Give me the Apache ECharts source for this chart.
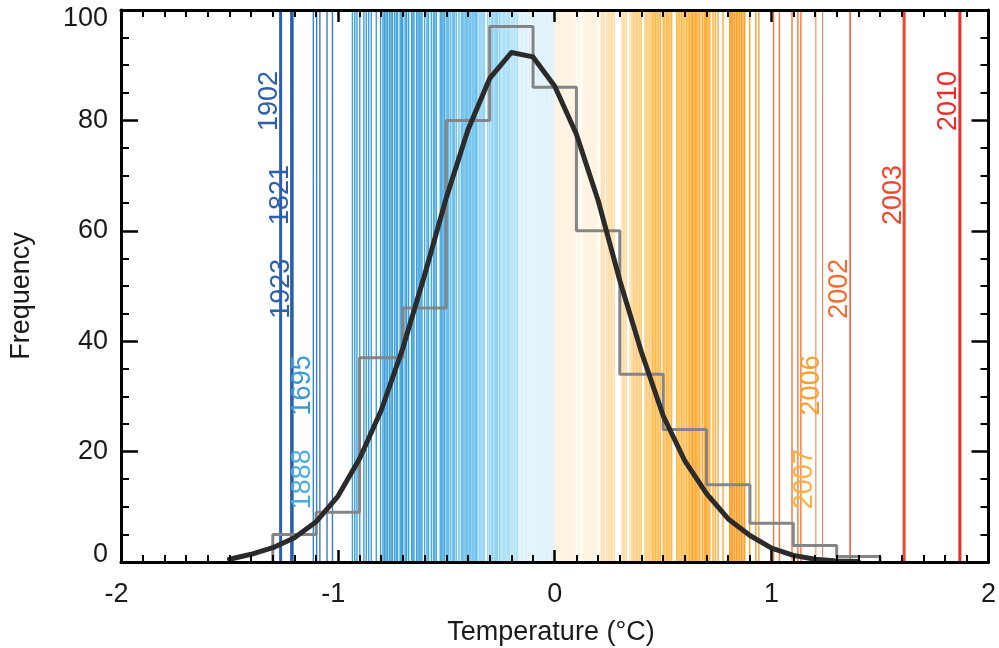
<!DOCTYPE html>
<html>
<head>
<meta charset="utf-8">
<script src="https://cdn.jsdelivr.net/npm/echarts@6/dist/echarts.min.js"></script>
<style>
html,body{margin:0;padding:0;background:#fff;}
#chart{width:999px;height:648px;}
</style>
</head>
<body>
<div id="chart"></div>
<script>
// ---------------- DATA ----------------
// Histogram (bin edges, °C) and counts
const binEdges = [-1.3,-1.1,-0.9,-0.7,-0.5,-0.3,-0.1,0.1,0.3,0.5,0.7,0.9,1.1,1.3,1.5];
const binCounts = [5,9,37,46,80,97,86,60,34,24,14,7,3,1];

// Fitted curve
const curveT = [-1.5,-1.4,-1.3,-1.2,-1.1,-1.0,-0.9,-0.8,-0.7,-0.6,-0.5,-0.4,-0.3,-0.2,-0.1,0.0,0.1,0.2,0.3,0.4,0.5,0.6,0.7,0.8,0.9,1.0,1.1,1.2,1.3,1.4];
const curveF = [0.5,1.4,2.6,4.4,7.3,11.9,18.7,27.5,38.8,52,66,78.3,87.6,92.3,91.5,86.2,77.5,65.5,51,38,26.5,18.3,12.4,7.8,4.8,2.5,1.2,0.5,0.2,0.1];

// Yearly temperature anomalies (°C), one vertical line each (unlabelled years)
const yearTemps = [
-1.098,-1.083,-1.050,-1.025,
-0.933,-0.922,-0.912,-0.899,-0.880,-0.869,-0.858,-0.846,-0.823,-0.803,-0.792,-0.785,-0.778,-0.771,-0.762,-0.755,
-0.749,-0.739,-0.731,-0.725,-0.713,-0.707,-0.701,-0.690,-0.683,-0.674,-0.660,-0.654,-0.649,-0.637,-0.630,-0.622,
-0.617,-0.612,-0.600,-0.589,-0.582,-0.569,-0.559,-0.553,-0.546,-0.528,-0.521,-0.515,-0.508,-0.500,-0.494,-0.489,
-0.482,-0.473,-0.467,-0.462,-0.454,-0.442,-0.431,-0.425,-0.419,-0.413,-0.408,-0.401,-0.395,-0.390,-0.386,-0.378,
-0.372,-0.366,-0.361,-0.355,-0.347,-0.341,-0.335,-0.330,-0.324,-0.309,-0.301,-0.293,-0.286,-0.280,-0.274,-0.268,
-0.263,-0.255,-0.249,-0.243,-0.237,-0.231,-0.225,-0.219,-0.214,-0.209,-0.201,-0.193,-0.186,-0.178,-0.172,-0.166,
-0.160,-0.154,-0.148,-0.142,-0.136,-0.130,-0.124,-0.117,-0.109,-0.101,-0.094,-0.086,-0.080,-0.074,-0.068,-0.062,
-0.056,-0.050,-0.044,-0.038,-0.032,-0.026,-0.020,-0.014,-0.008,-0.003,
0.003,0.009,0.015,0.021,0.027,0.033,0.039,0.045,0.051,0.057,0.063,0.069,0.075,0.081,0.087,0.093,0.107,0.113,
0.130,0.136,0.142,0.148,0.154,0.160,0.166,0.172,0.178,0.184,0.190,0.194,0.215,0.222,0.229,0.240,0.247,0.254,
0.261,0.268,0.275,0.310,0.317,0.324,0.330,0.347,0.355,0.362,0.370,0.377,0.384,0.392,0.399,0.416,0.423,0.430,
0.437,0.444,0.451,0.458,0.465,0.472,0.480,0.487,0.500,0.508,0.516,0.523,0.531,0.539,0.562,0.569,0.577,0.585,
0.592,0.600,0.608,0.615,0.622,0.630,0.636,0.642,0.648,0.655,0.661,0.669,0.680,0.689,0.695,0.700,0.707,0.715,
0.730,0.741,0.753,0.776,0.807,0.812,0.817,0.822,0.830,0.838,0.845,0.853,0.861,0.868,0.876,0.899,0.927,0.941,
1.009,1.036,1.094,1.121,1.135
];

// Labelled extreme years
const labelYears = ['1902','1821','1923','1695','1888','2007','2006','2002','2003','2010'];
const labelTemps = [-1.264,-1.213,-1.211,-1.114,-1.112,1.204,1.235,1.362,1.611,1.868];
const labelFreq  = [83.5,66.5,49.5,32,15,15,32,49.5,66.5,83.5];

// Axis ticks
const xTicks = [-2,-1,0,1,2];
const yTicks = [0,20,40,60,80,100];

// ---------------- STYLE ----------------
const FONT = '"Liberation Sans", Arial, Helvetica, sans-serif';
function lineColor(t){
  if (t < -1.15) return '#2d5eac';
  if (t < -0.95) return '#3a7cc8';
  if (t < -0.62) return '#3d9fdb';
  if (t < -0.5) return '#48a9e1';
  if (t < -0.36) return '#6cc0eb';
  if (t < -0.25) return '#94d3f4';
  if (t < -0.17) return '#ade0f7';
  if (t < 0) return '#dff1fb';
  if (t < 0.2) return '#fff3e0';
  if (t < 0.36) return '#ffdda8';
  if (t < 0.45) return '#ffca78';
  if (t < 0.62) return '#ffb845';
  if (t < 0.8) return '#ffaa32';
  if (t < 0.96) return '#ff9d24';
  if (t < 1.3) return '#f6783a';
  if (t < 1.5) return '#f2603a';
  return '#ee2b28';
}
const labelStyle = {
  '1902':{c:'#2d5eac',w:3}, '1821':{c:'#2d5eac',w:3}, '1923':{c:'#2d5eac',w:3},
  '1695':{c:'#3a98d6',w:1}, '1888':{c:'#4aabe3',w:1},
  '2007':{c:'#fbb13c',w:1}, '2006':{c:'#f8a030',w:1}, '2002':{c:'#f36b2d',w:1.6},
  '2003':{c:'#f1462b',w:3}, '2010':{c:'#ee2b28',w:3}
};
const tickText = {fontSize:27, fontFamily:FONT, color:'#1a1a1a'};

// Build library data from arrays
const histPts = [[binEdges[0],0]];
binCounts.forEach((c,i)=>{ histPts.push([binEdges[i],c],[binEdges[i+1],c]); });
histPts.push([binEdges[binEdges.length-1],0]);
const curvePts = curveT.map((t,i)=>[t,curveF[i]]);
const lineData = yearTemps.map(t=>[t,0]);
const labelData = labelTemps.map((t,i)=>[t,labelFreq[i],i]);

const axisLine = {show:true, onZero:false, lineStyle:{color:'#000', width:3}};
function xAxisCfg(pos, showLabel){
  return {
    type:'value', position:pos, min:xTicks[0], max:xTicks[xTicks.length-1], interval:1, z:10,
    axisLine:axisLine,
    axisTick:{show:true, inside:true, length:12, lineStyle:{color:'#000', width:2.5}},
    minorTick:{show:true, splitNumber:10, length:7, lineStyle:{color:'#000', width:2}},
    splitLine:{show:false}, minorSplitLine:{show:false},
    axisLabel:{show:showLabel, margin:19,
      formatter:v=> v<0 ? '{neg|'+v+'}' : '{n|'+v+'}',
      rich:{n:Object.assign({},tickText), neg:Object.assign({padding:[0,9,0,0]},tickText)}}
  };
}
function yAxisCfg(pos, showLabel){
  return {
    type:'value', position:pos, min:yTicks[0], max:yTicks[yTicks.length-1], interval:20, z:10,
    axisLine:axisLine,
    axisTick:{show:true, inside:true, length:17, lineStyle:{color:'#000', width:2.5}},
    minorTick:{show:true, splitNumber:4, length:8, lineStyle:{color:'#000', width:2}},
    splitLine:{show:false}, minorSplitLine:{show:false},
    axisLabel:{show:showLabel, margin:13,
      formatter:v=> v===yTicks[yTicks.length-1] ? '{t|'+v+'}' : (v===yTicks[0] ? '{b|'+v+'}' : '{n|'+v+'}'),
      rich:{n:Object.assign({},tickText), t:Object.assign({padding:[18,0,0,0]},tickText), b:Object.assign({padding:[0,0,15,0]},tickText)}}
  };
}

const chart = echarts.init(document.getElementById('chart'), null, {renderer:'canvas'});
chart.setOption({
  animation:false,
  backgroundColor:'#fff',
  grid:{left:121, right:8, top:10, bottom:86, containLabel:false},
  xAxis:[xAxisCfg('bottom',true), xAxisCfg('top',false)],
  yAxis:[yAxisCfg('left',true), yAxisCfg('right',false)],
  graphic:[
    {type:'text', x:551, y:633, style:{text:'Temperature (°C)', font:'27px '+FONT, fill:'#1a1a1a', align:'center', verticalAlign:'middle'}},
    {type:'text', x:22, y:296, rotation:Math.PI/2, style:{text:'Frequency', font:'27px '+FONT, fill:'#1a1a1a', align:'center', verticalAlign:'middle'}}
  ],
  series:[
    {
      type:'custom', name:'years', z:1, data:lineData, encode:{x:0,y:1},
      renderItem:(params, api)=>{
        const t = api.value(0);
        const p0 = api.coord([t,0]), p1 = api.coord([t,100]);
        return {type:'line', shape:{x1:p0[0],y1:p0[1],x2:p1[0],y2:p1[1]},
          style:{stroke:lineColor(t), lineWidth:1.4}};
      }
    },
    {
      type:'custom', name:'extremes', z:2, data:labelData, encode:{x:0,y:1},
      renderItem:(params, api)=>{
        const t = api.value(0), i = api.value(2);
        const st = labelStyle[labelYears[i]];
        const p0 = api.coord([t,0]), p1 = api.coord([t,100]);
        return {type:'line', shape:{x1:p0[0],y1:p0[1],x2:p1[0],y2:p1[1]},
          style:{stroke: st.w>=3 ? st.c : lineColor(t), lineWidth:st.w}};
      }
    },
    {
      type:'line', name:'histogram', z:3, data:histPts, showSymbol:false, symbol:'none',
      lineStyle:{color:'#858585', width:3}
    },
    {
      type:'line', name:'fit', z:4, data:curvePts, showSymbol:false, symbol:'none',
      lineStyle:{color:'#2b2b2b', width:5, join:'round', cap:'round'}
    },
    {
      type:'custom', name:'labels', z:5, data:labelData, encode:{x:0,y:1},
      renderItem:(params, api)=>{
        const t = api.value(0), f = api.value(1), i = api.value(2);
        const p = api.coord([t,f]);
        const st = labelStyle[labelYears[i]];
        return {type:'text', x:p[0]-11, y:p[1], rotation:Math.PI/2,
          style:{text:labelYears[i], fill:st.c, font:'27px '+FONT, align:'center', verticalAlign:'middle'}};
      }
    }
  ]
});
</script>
</body>
</html>
